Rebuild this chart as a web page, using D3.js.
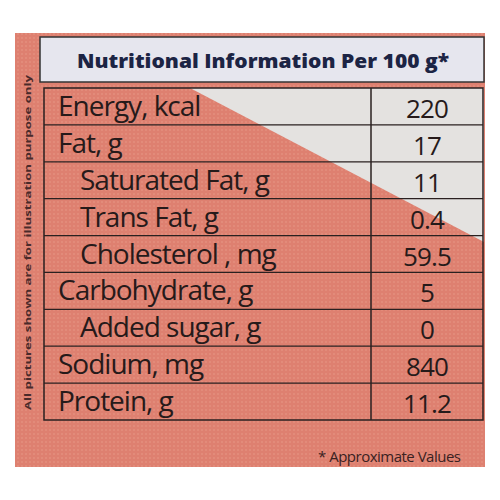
<!DOCTYPE html><html><head><script src="https://cdn.jsdelivr.net/npm/d3@7"></script>
<style>body{margin:0;background:#fff}</style></head><body><script>
const labels=["Energy, kcal","Fat, g","Saturated Fat, g","Trans Fat, g","Cholesterol , mg","Carbohydrate, g","Added sugar, g","Sodium, mg","Protein, g"];
const values=["220","17","11","0.4","59.5","5","0","840","11.2"];
const indent=[0,0,1,1,1,0,1,0,0];
const svg=d3.select("body").append("svg").attr("width",500).attr("height",500);
svg.append("rect").attr("x",15).attr("y",33).attr("width",470).attr("height",434).attr("fill","#de8070");
const pat=svg.append("defs").append("pattern").attr("id","p").attr("width",4).attr("height",4).attr("patternUnits","userSpaceOnUse");
pat.append("circle").attr("cx",2).attr("cy",2).attr("r",0.8).attr("fill","#f0b0a0").attr("opacity",0.5);
svg.append("rect").attr("x",15).attr("y",33).attr("width",470).attr("height",434).attr("fill","url(#p)");
svg.append("polygon").attr("points","190,88 484,88 484,242").attr("fill","#e4e2e0");
svg.append("rect").attr("x",40).attr("y",37).attr("width",444).attr("height",45).attr("fill","#e6e6ee").attr("stroke","#333").attr("stroke-width",1.5);
svg.append("text").attr("x",77).attr("y",68).attr("font-family","Open Sans").attr("font-weight","800").attr("font-size",20).attr("fill","#1c2444").attr("textLength",372).attr("lengthAdjust","spacingAndGlyphs").text("Nutritional Information Per 100 g*");
const y=d3.scaleBand().domain(d3.range(labels.length)).range([88,420]);
const x0=44,x1=371,x2=483;
const g=svg.append("g").attr("font-family","Open Sans").attr("fill","#261a1a");
g.append("rect").attr("x",x0).attr("y",88).attr("width",x2-x0).attr("height",332).attr("fill","none").attr("stroke","#2a2020").attr("stroke-width",1.5);
g.append("line").attr("x1",x1).attr("x2",x1).attr("y1",88).attr("y2",420).attr("stroke","#2a2020").attr("stroke-width",1.5);
labels.forEach((l,i)=>{
 if(i>0)g.append("line").attr("x1",x0).attr("x2",x2).attr("y1",y(i)).attr("y2",y(i)).attr("stroke","#2a2020").attr("stroke-width",1.3);
 g.append("text").attr("x",indent[i]?80:58).attr("y",y(i)+28).attr("font-size",28).attr("letter-spacing",-1).text(l);
 g.append("text").attr("x",427).attr("y",y(i)+30).attr("text-anchor","middle").attr("font-size",26).attr("letter-spacing",-0.8).text(values[i]);
});
svg.append("text").attr("transform","translate(31,410) rotate(-90)").attr("font-family","Open Sans").attr("font-weight","bold").attr("font-size",9).attr("fill","#4a2a2a").attr("textLength",335).attr("lengthAdjust","spacingAndGlyphs").text("All pictures shown are for illustration purpose only");
svg.append("text").attr("x",318).attr("y",462).attr("font-family","Open Sans").attr("font-size",15).attr("fill","#3a2222").attr("letter-spacing",-0.5).text("* Approximate Values");
</script></body></html>
